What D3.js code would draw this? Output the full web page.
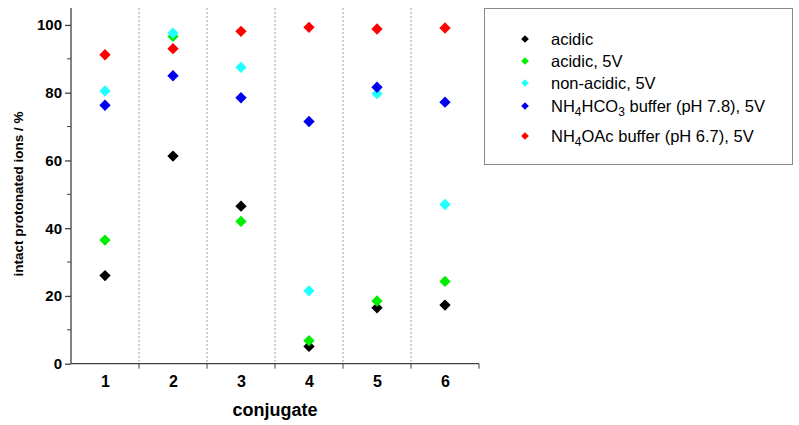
<!DOCTYPE html>
<html>
<head>
<meta charset="utf-8">
<script src="https://cdn.jsdelivr.net/npm/d3@7"></script>
<style>
  body { margin: 0; background: #fff; }
  svg { font-family: "Liberation Sans", Arial, sans-serif; }
</style>
</head>
<body>
<svg id="chart" width="799" height="425"></svg>
<script>
// categorias (conjugados)
const conjugates = [1, 2, 3, 4, 5, 6];
const yTicks = [0, 20, 40, 60, 80, 100];

// valores por serie
const acidic = [26, 61.3, 46.5, 5.1, 16.5, 17.3];
const acidic5V = [36.5, 96.6, 42, 6.8, 18.5, 24.3];
const nonAcidic5V = [80.5, 97.6, 87.5, 21.5, 79.7, 47];
const bicarb5V = [76.3, 85, 78.5, 71.5, 81.6, 77.2];
const acetate5V = [91.2, 93, 98.1, 99.3, 98.8, 99.1];

const seriesNames = ["acidic", "acidic, 5V", "non-acidic, 5V", "NH4HCO3", "NH4OAc"];
const seriesColors = ["#000000", "#00ee00", "#22ffff", "#0000f0", "#ff0000"];
const seriesValues = [acidic, acidic5V, nonAcidic5V, bicarb5V, acetate5V];

const svg = d3.select("#chart");
const mLeft = 71, mRight = 479, mTop = 8, mBottom = 363.7;

const x = d3.scaleLinear().domain([0.5, 6.5]).range([mLeft, mRight]);
const y = d3.scaleLinear().domain([0, 105]).range([mBottom, mTop]);

// lineas separadoras punteadas
const seps = d3.range(1.5, 6.5, 1);
svg.selectAll(".sep")
    .data(seps)
    .enter()
    .append("line")
    .attr("x1", d => x(d)).attr("x2", d => x(d))
    .attr("y1", mTop).attr("y2", mBottom)
    .attr("stroke", "#b89898")
    .attr("stroke-width", 1)
    .attr("stroke-dasharray", "2,2");

// eje Y
const yAxis = d3.axisLeft(y).tickValues(yTicks).tickSize(6).tickPadding(3);
const gy = svg.append("g").attr("transform", `translate(${mLeft},0)`).call(yAxis);
gy.select(".domain").attr("d", `M0,${mBottom}V${mTop}`);
gy.selectAll(".minor")
    .data([10, 30, 50, 70, 90])
    .enter()
    .append("line")
    .attr("class", "minor")
    .attr("x1", -4).attr("x2", 0)
    .attr("y1", d => y(d)).attr("y2", d => y(d))
    .attr("stroke", "#404040");

// eje X
const xAxis = d3.axisBottom(x).tickValues(conjugates).tickSize(0).tickPadding(12).tickFormat(d3.format("d"));
const gx = svg.append("g").attr("transform", `translate(0,${mBottom})`).call(xAxis);
gx.select(".domain").attr("d", `M${mLeft},0H${mRight}`);
gx.selectAll(".sepTick")
    .data(seps.concat([6.5]))
    .enter()
    .append("line")
    .attr("class", "sepTick")
    .attr("x1", d => x(d)).attr("x2", d => x(d))
    .attr("y1", 0).attr("y2", 5)
    .attr("stroke", "#404040");

svg.selectAll(".domain, .tick line").attr("stroke", "#404040").attr("stroke-width", 1.3);
svg.selectAll(".tick text")
    .attr("fill", "#000")
    .attr("font-size", 15)
    .attr("font-weight", "bold")
    .attr("font-family", "Liberation Sans, Arial, sans-serif");
gx.selectAll(".tick text").attr("font-size", 16);

// titulos de ejes
svg.append("text")
    .attr("x", x(3.5))
    .attr("y", 416)
    .attr("text-anchor", "middle")
    .attr("font-size", 18)
    .attr("font-weight", "bold")
    .text("conjugate");

svg.append("text")
    .attr("transform", `translate(23,194) rotate(-90)`)
    .attr("text-anchor", "middle")
    .attr("font-size", 13.5)
    .attr("font-weight", "bold")
    .text("intact protonated ions / %");

// puntos
const diamond = d3.symbol().type(d3.symbolSquare).size(64);
seriesValues.forEach((vals, s) => {
    svg.append("g").selectAll("path")
        .data(vals)
        .enter()
        .append("path")
        .attr("d", diamond)
        .attr("transform", (d, i) => `translate(${x(conjugates[i])},${y(d)}) rotate(45)`)
        .attr("fill", seriesColors[s]);
});

// leyenda
const legend = svg.append("g");
legend.append("rect")
    .attr("x", 484.5).attr("y", 8.5)
    .attr("width", 308).attr("height", 156)
    .attr("fill", "#fff")
    .attr("stroke", "#888")
    .attr("stroke-width", 1);

const legendY = [39, 61, 83, 106, 136];
const smallDiamond = d3.symbol().type(d3.symbolSquare).size(30);
seriesNames.forEach((name, i) => {
    legend.append("path")
        .attr("d", smallDiamond)
        .attr("transform", `translate(525,${legendY[i]}) rotate(45)`)
        .attr("fill", seriesColors[i]);
    const t = legend.append("text")
        .attr("x", 551)
        .attr("y", legendY[i] + 6)
        .attr("font-size", 16.5)
        .attr("fill", "#000");
    if (name === "NH4HCO3") {
        t.append("tspan").text("NH");
        t.append("tspan").attr("font-size", 12).attr("dy", 4).text("4");
        t.append("tspan").attr("dy", -4).text("HCO");
        t.append("tspan").attr("font-size", 12).attr("dy", 4).text("3");
        t.append("tspan").attr("dy", -4).text(" buffer (pH 7.8), 5V");
    } else if (name === "NH4OAc") {
        t.append("tspan").text("NH");
        t.append("tspan").attr("font-size", 12).attr("dy", 4).text("4");
        t.append("tspan").attr("dy", -4).text("OAc buffer (pH 6.7), 5V");
    } else {
        t.text(name);
    }
});
</script>
</body>
</html>
